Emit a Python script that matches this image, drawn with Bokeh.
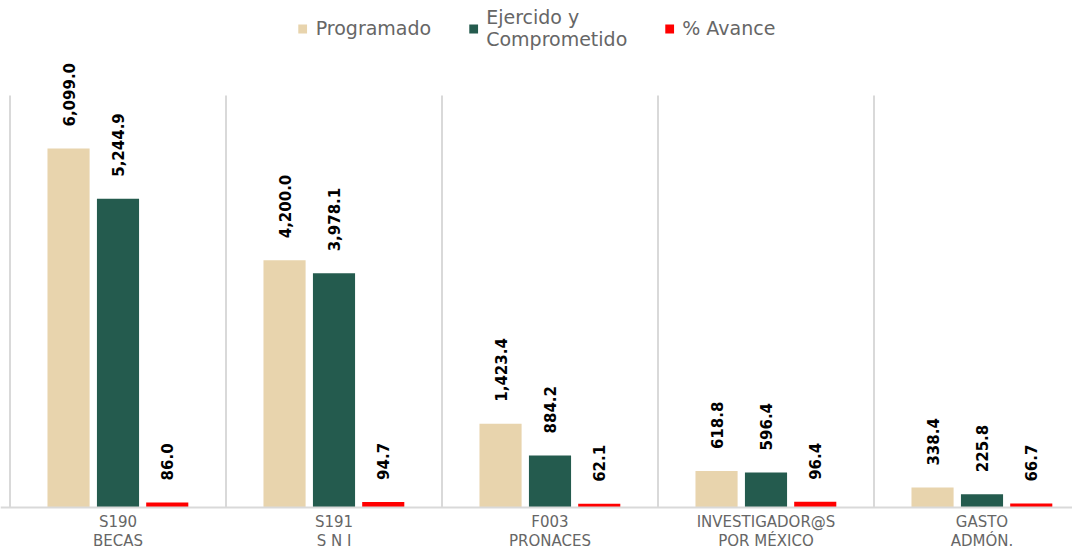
import numpy as np
from bokeh.plotting import figure
from bokeh.models import (ColumnDataSource, Range1d, Legend, LegendItem, Span)
from bokeh.core.properties import value
from bokeh.embed import file_html
from bokeh.resources import INLINE

categories = ["S190\nBECAS", "S191\nS N I", "F003\nPRONACES", "INVESTIGADOR@S\nPOR MÉXICO", "GASTO\nADMÓN."]
programado = [6099.0, 4200.0, 1423.4, 618.8, 338.4]
ejercido = [5244.9, 3978.1, 884.2, 596.4, 225.8]
avance = [86.0, 94.7, 62.1, 96.4, 66.7]
series_names = ["Programado", "Ejercido y\nComprometido", "% Avance"]
series_colors = ["#E8D4AD", "#245B4E", "#FF0000"]

n = len(categories)
centers = np.arange(n) + 0.5
offsets = [-0.229, 0.0, 0.228]
bar_w = 0.195
grid_top = 7000

W, H = 1072, 552
px_per_cat = 216
px_per_unit = 412 / grid_top
x0 = -9.5 / px_per_cat
y0 = -45 / px_per_unit

p = figure(width=W, height=H, output_backend="svg", toolbar_location=None,
           x_range=Range1d(x0, x0 + W / px_per_cat),
           y_range=Range1d(y0, y0 + H / px_per_unit),
           min_border_left=0, min_border_right=0, min_border_top=0, min_border_bottom=0)
p.outline_line_color = None
p.background_fill_color = "white"
p.border_fill_color = "white"
p.axis.visible = False
p.grid.visible = False

# separators
bounds = np.arange(n + 1)
p.segment(x0=bounds, y0=np.zeros(n + 1), x1=bounds, y1=np.full(n + 1, grid_top),
          line_color="#D9D9D9", line_width=2)
p.add_layout(Span(location=0, dimension="width", line_color="#D9D9D9", line_width=2))

renderers = []
for vals, off, col in zip([programado, ejercido, avance], offsets, series_colors):
    src = ColumnDataSource(dict(x=centers + off, top=vals,
                                lab=[f"{v:,.1f}" for v in vals]))
    r = p.vbar(x="x", top="top", width=bar_w, bottom=0, source=src,
               fill_color=col, line_color=None)
    renderers.append(r)
    p.text(x="x", y="top", text="lab", source=src, angle=np.pi / 2,
           text_align="left", text_baseline="middle", y_offset=-22,
           text_font=value("DejaVu Sans"), text_font_style="bold",
           text_font_size="15px", text_color="black")

# category labels (x axis)
csrc = ColumnDataSource(dict(x=centers, y=np.zeros(n), lab=categories))
p.text(x="x", y="y", text="lab", source=csrc, text_align="center",
       text_baseline="top", y_offset=5, text_font=value("DejaVu Sans"),
       text_font_size="15px", text_color="#666666", text_line_height=1.1)

legend = Legend(items=[LegendItem(label=nm, renderers=[r]) for nm, r in zip(series_names, renderers)],
                orientation="horizontal", location="top_center",
                label_text_font="DejaVu Sans", label_text_font_size="19px",
                label_text_color="#666666", glyph_width=11, glyph_height=11,
                label_standoff=8, spacing=36, padding=4, margin=6,
                border_line_color=None, background_fill_alpha=0)
p.add_layout(legend)

open("out.html", "w").write(file_html(p, INLINE))
